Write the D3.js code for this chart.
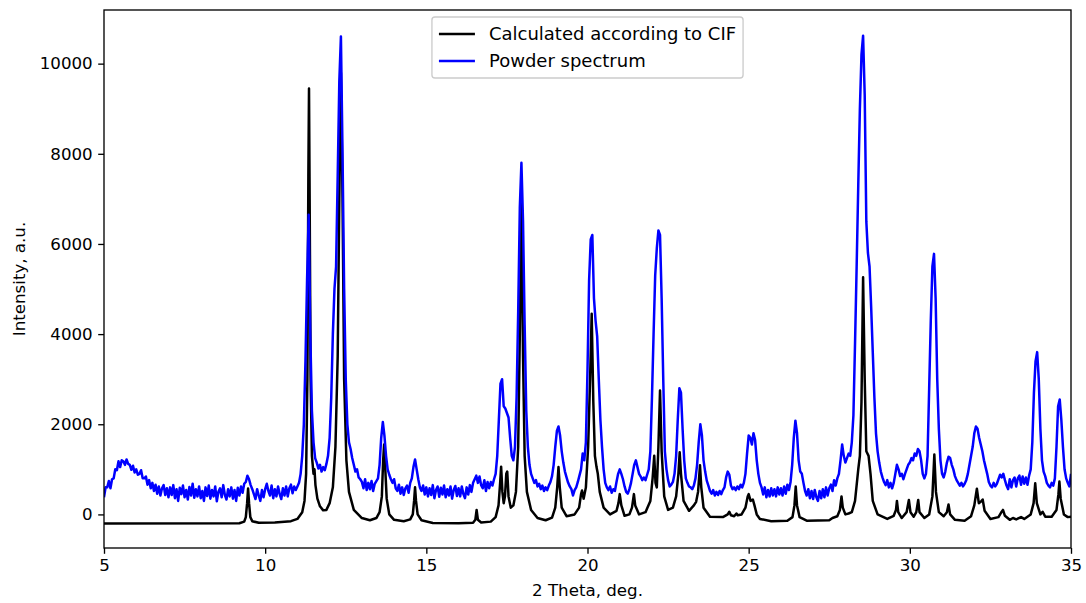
<!DOCTYPE html>
<html>
<head>
<meta charset="utf-8">
<script src="https://cdn.jsdelivr.net/npm/d3@7"></script>
<style>
    body { margin: 0; background: #fff; }
    svg { display: block; font-family: 'DejaVu Sans', sans-serif; }
</style>
</head>
<body>
<script>
// calculated pattern, [2theta, intensity]
const calcPoints = [
    [5, -200], [9.2, -195], [9.35, -160], [9.40, -60], [9.44, 250], [9.47, 575], [9.50, 250], [9.54, -60], [9.6, -150],
    [9.8, -185], [10.3, -180], [10.8, -150], [11.0, -100], [11.15, 50], [11.22, 300], [11.27, 900], [11.31, 3000],
    [11.34, 7500], [11.36, 9450], [11.38, 7000], [11.41, 3000], [11.45, 1300], [11.5, 900], [11.53, 1000], [11.56, 650],
    [11.62, 350], [11.7, 180], [11.8, 90], [11.9, 100], [12.0, 250], [12.1, 600], [12.18, 1500], [12.25, 3500],
    [12.3, 7000], [12.35, 9800], [12.4, 7000], [12.45, 3000], [12.52, 1200], [12.6, 500], [12.75, 100], [13.0, -80],
    [13.25, -130], [13.45, -80], [13.55, 50], [13.62, 400], [13.66, 1200], [13.69, 1550], [13.72, 1100], [13.77, 350],
    [13.85, 0], [14.0, -120], [14.3, -150], [14.5, -110], [14.58, 0], [14.62, 300], [14.65, 600], [14.68, 300],
    [14.73, 0], [14.85, -130], [15.2, -190], [16.0, -195], [16.45, -185], [16.52, -120], [16.56, 100], [16.6, -120],
    [16.7, -180], [17.0, -160], [17.15, -60], [17.24, 200], [17.29, 700], [17.32, 1060], [17.36, 500], [17.40, 250],
    [17.44, 400], [17.48, 900], [17.51, 950], [17.55, 400], [17.62, 150], [17.7, 200], [17.78, 500], [17.85, 1500],
    [17.9, 4000], [17.95, 7000], [18.0, 3500], [18.05, 1300], [18.12, 500], [18.25, 100], [18.45, -80], [18.7, -130],
    [18.9, -70], [19.0, 150], [19.06, 600], [19.1, 1050], [19.14, 600], [19.2, 150], [19.35, -40], [19.6, 0],
    [19.74, 150], [19.8, 450], [19.83, 530], [19.88, 350], [19.95, 600], [20.02, 1500], [20.08, 3000], [20.13, 4450],
    [20.18, 2500], [20.23, 1300], [20.28, 1050], [20.32, 900], [20.38, 500], [20.5, 150], [20.7, 0], [20.9, 80],
    [20.96, 250], [21.0, 450], [21.05, 200], [21.15, -30], [21.3, 0], [21.38, 150], [21.44, 450], [21.48, 200],
    [21.6, 0], [21.8, 50], [21.95, 300], [22.02, 800], [22.07, 1300], [22.11, 700], [22.15, 600], [22.2, 1500],
    [22.25, 2750], [22.3, 1400], [22.38, 400], [22.5, 100], [22.65, 150], [22.75, 400], [22.82, 900], [22.86, 1380],
    [22.9, 900], [22.98, 300], [23.15, 80], [23.3, 200], [23.37, 280], [23.43, 500], [23.49, 1090], [23.53, 600],
    [23.6, 150], [23.8, -50], [24.2, -60], [24.35, 0], [24.4, 60], [24.45, -20], [24.55, -40], [24.62, 20],
    [24.66, -20], [24.78, 0], [24.9, 150], [24.97, 400], [25.0, 450], [25.06, 300], [25.13, 330], [25.18, 200],
    [25.25, 0], [25.35, -100], [25.7, -150], [26.2, -140], [26.36, -60], [26.42, 200], [26.46, 620], [26.5, 200],
    [26.58, -60], [26.8, -140], [27.5, -130], [27.6, -80], [27.75, -40], [27.83, 100], [27.88, 400], [27.92, 150],
    [28.0, 0], [28.1, 20], [28.2, 50], [28.3, 300], [28.4, 1000], [28.45, 1300], [28.5, 2500], [28.55, 5260],
    [28.6, 3000], [28.65, 1400], [28.72, 1300], [28.78, 900], [28.85, 300], [29.0, 0], [29.3, -100], [29.5, -30],
    [29.57, 100], [29.6, 300], [29.64, 50], [29.75, -80], [29.9, 50], [29.97, 320], [30.02, 50], [30.12, -50],
    [30.2, 50], [30.26, 320], [30.3, 50], [30.45, -80], [30.6, 0], [30.7, 400], [30.76, 1330], [30.81, 500],
    [30.9, 50], [31.05, -40], [31.15, 50], [31.2, 220], [31.25, 0], [31.4, -120], [31.7, -140], [31.9, -40],
    [32.0, 200], [32.08, 570], [32.14, 250], [32.2, 280], [32.26, 330], [32.32, 80], [32.5, -100], [32.75, -60],
    [32.85, 60], [32.89, 100], [32.95, -30], [33.1, -120], [33.2, -80], [33.3, -110], [33.45, -60], [33.55, -100],
    [33.75, 0], [33.84, 250], [33.89, 690], [33.94, 250], [34.05, 0], [34.12, 60], [34.2, -50], [34.4, -50],
    [34.55, 100], [34.61, 450], [34.64, 730], [34.68, 350], [34.78, 0], [34.9, -60], [35.0, -50]
];

// measured powder pattern, one value every 0.05 deg from 5 to 35
const powderStart = 5;
const powderStep = 0.05;
const powderIntensity = [
    380, 600, 600, 740, 580, 780, 800, 1000, 980, 1180, 1050, 1200, 1180, 1100, 1220, 1120, 1100, 990, 1080, 930,
    1000, 880, 900, 980, 800, 800, 840, 660, 760, 580, 700, 520, 660, 460, 620, 420, 580, 650, 430, 580,
    380, 600, 430, 650, 360, 560, 300, 590, 450, 640, 380, 540, 330, 610, 420, 680, 370, 560, 400, 620,
    360, 520, 300, 600, 410, 640, 350, 540, 400, 620, 290, 500, 580, 380, 650, 430, 330, 560, 400, 600,
    350, 540, 300, 590, 420, 620, 480, 680, 720, 860, 780, 650, 560, 450, 340, 560, 420, 300, 540, 380,
    560, 680, 520, 420, 640, 360, 560, 400, 620, 450, 340, 580, 420, 620, 400, 580, 660, 470, 620, 540,
    620, 700, 900, 1300, 2000, 3400, 5200, 6650, 4000, 2300, 1600, 1250, 1150, 1020, 1100, 950, 1050, 980, 1120, 1300,
    1700, 2600, 4000, 5000, 5500, 7500, 9600, 10600, 8000, 5000, 3000, 2000, 1600, 1450, 1250, 1100, 950, 1000, 820, 780,
    720, 580, 780, 540, 700, 560, 740, 520, 680, 740, 800, 1100, 1700, 2050, 1750, 1300, 1000, 880, 780, 700,
    780, 580, 520, 660, 460, 600, 430, 580, 640, 480, 700, 800, 1050, 1220, 1000, 780, 600, 520, 640, 440,
    600, 400, 580, 430, 650, 360, 540, 620, 390, 590, 440, 640, 380, 560, 420, 620, 350, 540, 630, 410,
    580, 400, 620, 450, 360, 600, 440, 650, 500, 700, 780, 860, 700, 840, 650, 580, 760, 520, 720, 580,
    720, 640, 780, 900, 1300, 2100, 2900, 3000, 2400, 2350, 2250, 2150, 1700, 1300, 1200, 1500, 2600, 4500, 6800, 7800,
    6500, 4200, 2300, 1500, 1100, 900, 800, 700, 760, 620, 680, 560, 640, 520, 600, 540, 640, 720, 850, 1100,
    1500, 1850, 1950, 1750, 1400, 1150, 950, 820, 700, 620, 560, 420, 540, 600, 720, 860, 1000, 1350, 1200, 1600,
    3200, 5200, 6100, 6200, 4800, 4300, 3950, 3000, 2100, 1500, 1000, 700, 600, 540, 620, 480, 560, 520, 720, 900,
    1000, 900, 780, 620, 500, 460, 560, 700, 900, 1100, 1200, 1050, 900, 840, 760, 820, 760, 880, 1000, 1400,
    2600, 4000, 5300, 5900, 6300, 6200, 4800, 3000, 1400, 1000, 760, 620, 660, 720, 900, 1300, 2100, 2800, 2700, 1900,
    1200, 800, 700, 620, 600, 560, 640, 800, 1100, 1600, 2000, 1750, 1200, 950, 750, 640, 520, 460, 540, 420,
    500, 430, 520, 450, 540, 600, 820, 950, 880, 640, 560, 600, 540, 620, 560, 660, 600, 700, 900, 1350,
    1750, 1700, 1550, 1800, 1650, 1200, 900, 700, 600, 440, 600, 380, 540, 400, 580, 420, 560, 400, 600, 440,
    580, 420, 620, 460, 660, 540, 720, 1100, 1700, 2080, 1800, 1200, 950, 900, 700, 520, 420, 560, 360, 520,
    340, 540, 380, 300, 520, 360, 560, 380, 600, 420, 580, 660, 520, 760, 640, 800, 900, 1200, 1550, 1300,
    1150, 1250, 1350, 1300, 1600, 2200, 3800, 5500, 7300, 9000, 10200, 10620, 9300, 6500, 5800, 5500, 4600, 3600, 2600, 1800,
    1400, 1150, 950, 820, 720, 650, 760, 600, 700, 580, 700, 900, 1100, 1000, 850, 900, 780, 900, 1000, 1100,
    1150, 1250, 1200, 1350, 1300, 1450, 1400, 1200, 900, 800, 900, 1300, 2800, 4300, 5500, 5780, 4800, 3000, 1900, 1200,
    900, 820, 950, 1150, 1280, 1250, 1100, 1000, 850, 760, 700, 640, 700, 620, 680, 760, 900, 1100, 1300, 1500,
    1800, 1950, 1900, 1700, 1550, 1400, 1200, 1050, 900, 720, 640, 600, 700, 620, 680, 780, 880, 820, 900, 760,
    640, 560, 780, 600, 760, 820, 620, 800, 860, 660, 840, 680, 820, 660, 860, 1000, 1600, 2700, 3400, 3600,
    3000, 1900, 1200, 950, 850, 700, 640, 600, 700, 640, 800, 1500, 2400, 2550, 2100, 1500, 1000, 800, 700, 620,
    900
];

const xTicks = [5, 10, 15, 20, 25, 30, 35];
const yTicks = [0, 2000, 4000, 6000, 8000, 10000];
const seriesNames = ['Calculated according to CIF', 'Powder spectrum'];
const seriesColors = ['#000000', '#0000ff'];

const width = 1086;
const height = 603;
const marginLeft = 104;
const marginRight = 15;
const marginTop = 10;
const marginBottom = 55;
const fontSize = 16.67;
const legendFont = 18;

const powderPoints = powderIntensity.map((v, i) => [powderStart + i * powderStep, v]);

const svg = d3.select('body').append('svg')
    .attr('width', width)
    .attr('height', height);

const x = d3.scaleLinear()
    .domain([5, 35])
    .range([marginLeft, width - marginRight]);

const y = d3.scaleLinear()
    .domain([-745, 11190])
    .range([height - marginBottom, marginTop]);

svg.append('clipPath')
    .attr('id', 'plot-clip')
    .append('rect')
    .attr('x', marginLeft)
    .attr('y', marginTop)
    .attr('width', x.range()[1] - marginLeft)
    .attr('height', y.range()[0] - marginTop);

const line = d3.line()
    .x(d => x(d[0]))
    .y(d => y(d[1]));

// curves, powder drawn on top
[calcPoints, powderPoints].forEach((pts, i) =>
{
    svg.append('path')
        .datum(pts)
        .attr('clip-path', 'url(#plot-clip)')
        .attr('fill', 'none')
        .attr('stroke', seriesColors[i])
        .attr('stroke-width', 2.5)
        .attr('stroke-linejoin', 'round')
        .attr('d', line);
});

// axes
const xAxis = d3.axisBottom(x).tickValues(xTicks).tickFormat(d3.format('d'))
    .tickSize(5.8).tickPadding(5.5).tickSizeOuter(0);
const yAxis = d3.axisLeft(y).tickValues(yTicks).tickFormat(d3.format('d'))
    .tickSize(5.8).tickPadding(5.5).tickSizeOuter(0);

svg.append('g')
    .attr('transform', `translate(0, ${y.range()[0]})`)
    .call(xAxis)
    .call(g => g.select('.domain').remove())
    .call(g => g.selectAll('line').attr('stroke', '#000').attr('stroke-width', 1.33))
    .call(g => g.selectAll('text').attr('fill', '#000').style('font-size', fontSize + 'px').style('font-family', 'DejaVu Sans'));

svg.append('g')
    .attr('transform', `translate(${marginLeft}, 0)`)
    .call(yAxis)
    .call(g => g.select('.domain').remove())
    .call(g => g.selectAll('line').attr('stroke', '#000').attr('stroke-width', 1.33))
    .call(g => g.selectAll('text').attr('fill', '#000').style('font-size', fontSize + 'px').style('font-family', 'DejaVu Sans'));

// frame
svg.append('rect')
    .attr('x', marginLeft)
    .attr('y', marginTop)
    .attr('width', x.range()[1] - marginLeft)
    .attr('height', y.range()[0] - marginTop)
    .attr('fill', 'none')
    .attr('stroke', '#000')
    .attr('stroke-width', 1.33);

// axis labels
svg.append('text')
    .attr('x', (marginLeft + x.range()[1]) / 2)
    .attr('y', 596)
    .attr('text-anchor', 'middle')
    .style('font-size', fontSize + 'px')
    .text('2 Theta, deg.');

svg.append('text')
    .attr('transform', `translate(25, ${(marginTop + y.range()[0]) / 2}) rotate(-90)`)
    .attr('text-anchor', 'middle')
    .style('font-size', fontSize + 'px')
    .text('Intensity, a.u.');

// legend
const legend = svg.append('g');
const legendBox = legend.append('rect')
    .attr('fill', '#fff')
    .attr('fill-opacity', 0.8)
    .attr('stroke', '#cccccc')
    .attr('stroke-width', 1.33)
    .attr('rx', 3);

const labels = seriesNames.map((name, i) =>
{
    const rowY = 34 + i * 27;
    legend.append('line')
        .attr('x1', 0).attr('x2', 36)
        .attr('y1', rowY).attr('y2', rowY)
        .attr('stroke', seriesColors[i])
        .attr('stroke-width', 2.5);
    return legend.append('text')
        .attr('x', 50)
        .attr('y', rowY)
        .attr('dy', '0.35em')
        .style('font-size', legendFont + 'px')
        .text(name);
});

const textWidth = d3.max(labels, t => t.node().getComputedTextLength());
const boxWidth = 7 + 50 + textWidth + 7;
const boxLeft = (marginLeft + x.range()[1]) / 2 - boxWidth / 2;
legendBox.attr('x', -7).attr('y', 17).attr('width', boxWidth).attr('height', 61);
legend.attr('transform', `translate(${boxLeft + 7}, 0)`);
</script>
</body>
</html>
